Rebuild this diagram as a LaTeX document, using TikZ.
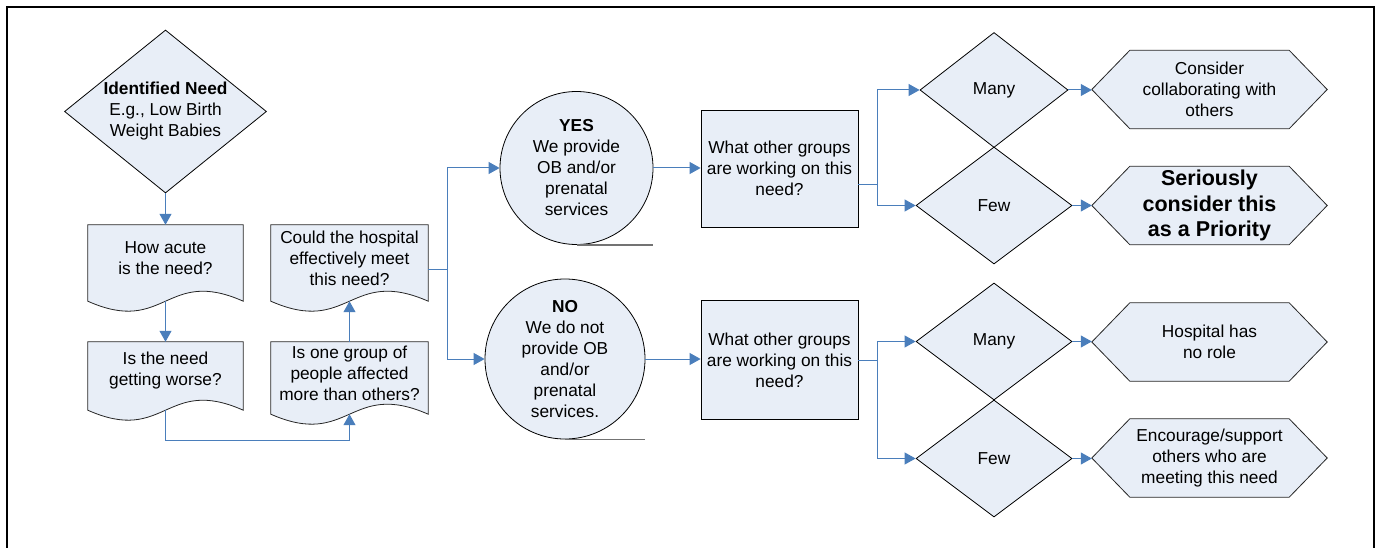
\documentclass[tikz,border=0pt]{standalone}
\usepackage{fontspec}
\setmainfont{Liberation Sans}
\usepackage{tikz}
\usetikzlibrary{shapes.geometric, arrows.meta, backgrounds}

\definecolor{boxfill}{RGB}{232,238,247}
\definecolor{flowblue}{RGB}{74,126,187}

\tikzset{
  txt/.style={font=\fontsize{17.3}{21}\selectfont, align=center},
  choice/.style={txt, diamond, draw=black, line width=0.8pt, fill=boxfill,
    inner sep=0pt, minimum width=156pt, minimum height=117pt},
  docnode/.style={txt, rectangle, inner sep=0pt, minimum width=155pt},
  docbody/.style={draw=black!85, line width=0.8pt, fill=boxfill},
  tape/.style={txt, circle, draw=black, line width=0.8pt, fill=boxfill, inner sep=0pt},
  tapetail/.style={draw=black!55, line width=1.5pt},
  askbox/.style={txt, rectangle, draw=black, line width=0.8pt, fill=boxfill,
    inner sep=2pt, minimum width=157pt, minimum height=117pt},
  hexnode/.style={txt, rectangle, inner sep=0pt, minimum width=235pt, minimum height=78pt},
  hexbody/.style={draw=black!85, line width=0.8pt, fill=boxfill},
  link/.style={draw=flowblue, line width=1pt},
  flow/.style={link, -{Triangle[length=11pt, width=12pt]}}
}

\begin{document}
\begin{tikzpicture}[x=1pt, y=-1pt]
  \useasboundingbox (0,0) rectangle (1383,548);
  % frame
  \draw[line width=2.5pt] (7,560) -- (7,7) -- (1374,7) -- (1374,560);

  % left column
  \node[choice, minimum width=202pt, minimum height=163pt, aspect=1.24] (need) at (165.5,111.5)
    {\textbf{Identified Need}\\E.g., Low Birth\\Weight Babies};
  \node[docnode, minimum height=66pt] (acute) at (165.5,258) {How acute\\is the need?};
  \node[docnode, minimum height=58pt] (worse) at (165.5,371) {Is the need\\getting worse?};
  \node[docnode, minimum width=157pt, minimum height=62pt] (group) at (349.5,373)
    {Is one group of\\people affected\\more than others?};
  \node[docnode, minimum width=157pt, minimum height=66pt] (meet) at (349.5,258)
    {Could the hospital\\effectively meet\\this need?};

  % provide or not
  \node[tape, minimum size=153pt] (yes) at (576.5,168)
    {\textbf{YES}\\We provide\\OB and/or\\prenatal\\services};
  \node[tape, minimum size=160pt] (no) at (565,359)
    {\textbf{NO}\\We do not\\provide OB\\and/or\\prenatal\\services.};
  \draw[tapetail] (yes.south) -- (yes.south -| yes.east);
  \draw[tapetail] (no.south) -- (no.south -| no.east);

  \node[askbox] (askyes) at (779.5,168.5) {What other groups\\are working on this\\need?};
  \node[askbox, minimum height=119pt] (askno) at (779.5,360) {What other groups\\are working on this\\need?};

  % decisions
  \node[choice, minimum width=148pt, minimum height=115pt] (manyA) at (994,90) {Many};
  \node[choice] (fewA) at (994,205.5) {Few};
  \node[choice] (manyB) at (994,341.5) {Many};
  \node[choice] (fewB) at (994,458.5) {Few};

  % outcomes
  \node[hexnode] (collab) at (1209.5,89.5) {Consider\\collaborating with\\others};
  \node[hexnode, font=\bfseries\fontsize{21.5}{25.5}\selectfont] (priority) at (1209.5,205.5)
    {Seriously\\consider this\\as a Priority};
  \node[hexnode] (norole) at (1209.5,342) {Hospital has\\no role};
  \node[hexnode] (support) at (1209.5,458) {Encourage/support\\others who are\\meeting this need};

  % outlines behind the text
  \begin{scope}[on background layer]
    \foreach \d in {acute, worse, group, meet}
      \draw[docbody] (\d.north west) -- (\d.north east) -- ([yshift=-10pt]\d.south east)
        .. controls ([yshift=24.6pt]\d.south) and ([yshift=-44.6pt]\d.south)
        .. ([yshift=-10pt]\d.south west) -- cycle;
    \foreach \h in {collab, priority, norole, support}
      \draw[hexbody] (\h.west) -- ([xshift=38pt]\h.north west) -- ([xshift=-38pt]\h.north east)
        -- (\h.east) -- ([xshift=-38pt]\h.south east) -- ([xshift=38pt]\h.south west) -- cycle;
  \end{scope}

  % connectors
  \draw[flow] (need.south) -- (acute.north);
  \draw[flow] ([yshift=-10pt]acute.south) -- (worse.north);
  \draw[flow] ([yshift=-10pt]worse.south) -- ++(0,30) -| ([yshift=-10pt]group.south);
  \draw[flow] (group.north) -- ([yshift=-10pt]meet.south);

  \coordinate (forkL) at (447,269);
  \draw[link] (meet.east |- forkL) -- (forkL);
  \draw[flow] (forkL) |- (yes.west);
  \draw[flow] (forkL) |- (no.west);
  \draw[flow] (yes.east) -- (yes.east -| askyes.west);
  \draw[flow] (no.east) -- (no.east -| askno.west);

  \coordinate (forkA) at (877,185);
  \draw[link] (askyes.east |- forkA) -- (forkA);
  \draw[flow] (forkA) |- (manyA.west);
  \draw[flow] (forkA) |- (fewA.west);
  \coordinate (forkB) at (877,360);
  \draw[link] (askno.east) -- (forkB);
  \draw[flow] (forkB) |- (manyB.west);
  \draw[flow] (forkB) |- (fewB.west);

  \draw[flow] (manyA.east) -- (manyA.east -| collab.west);
  \draw[flow] (fewA.east) -- (fewA.east -| priority.west);
  \draw[flow] (manyB.east) -- (manyB.east -| norole.west);
  \draw[flow] (fewB.east) -- (fewB.east -| support.west);
\end{tikzpicture}
\end{document}
